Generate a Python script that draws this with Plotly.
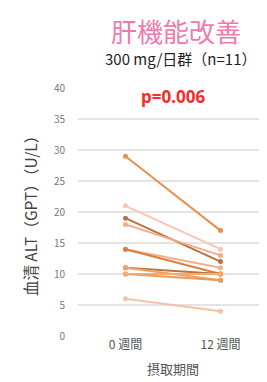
import plotly.graph_objects as go

categories = ["0 週間", "12 週間"]
week0 = [29, 21, 19, 18, 14, 14, 11, 11, 10, 10, 6]
week12 = [17, 14, 12, 13, 11, 10, 10, 9, 9, 10, 4]
colors = ["#E8904F", "#F8C6B4", "#B8733F", "#F4A98A", "#F2B08C", "#D9803F",
          "#B87640", "#F2A060", "#EE9955", "#F5A870", "#F8C0A8"]
yticks = [0, 5, 10, 15, 20, 25, 30, 35, 40]

fig = go.Figure()
for a, b, c in zip(week0, week12, colors):
    fig.add_trace(go.Scatter(x=categories, y=[a, b], mode="lines+markers",
                             line=dict(color=c, width=2), marker=dict(color=c, size=5),
                             showlegend=False))

fig.update_layout(
    width=267, height=382,
    margin=dict(l=70, r=7, t=80, b=54),
    paper_bgcolor="white", plot_bgcolor="white",
    font=dict(family="Noto Sans CJK JP", color="#333"),
    xaxis=dict(type="category", range=[-0.5, 1.5], showgrid=False, zeroline=False,
               showline=False, ticks="", tickfont=dict(size=12, color="#555"),
               title=dict(text="摂取期間", font=dict(size=13, color="#555"), standoff=13)),
    yaxis=dict(range=[0, 40], tickvals=yticks, showgrid=True, gridcolor="#E4E4E4",
               gridwidth=1.5, zeroline=False, showline=False, ticks="",
               tickfont=dict(size=10, color="#777"), ticklabelstandoff=12,
               title=dict(text="血清 ALT（GPT）（U/L）", font=dict(size=15.5, color="#444"),
                          standoff=12)),
    annotations=[
        dict(text="肝機能改善", x=168, y=22, showarrow=False,
             font=dict(size=26, color="#F07AAE", family="Noto Sans CJK JP")),
        dict(text="300 mg/日群（n=11）", x=173, y=50, showarrow=False,
             font=dict(size=15, color="#222")),
        dict(text="<b>p=0.006</b>", x=165, y=88, showarrow=False,
             font=dict(size=17, color="#F0302A", family="Noto Sans")),
    ],
)
# convert pixel annotation positions to paper coords
pw, ph = 267 - 70 - 7, 382 - 80 - 54
for ann in fig.layout.annotations:
    px, py = ann.x, ann.y
    ann.xref = "paper"; ann.yref = "paper"
    ann.x = (px - 70) / pw
    ann.y = (382 - 54 - py) / ph
    ann.xanchor = "center"; ann.yanchor = "middle"

fig.write_html("out.html")
